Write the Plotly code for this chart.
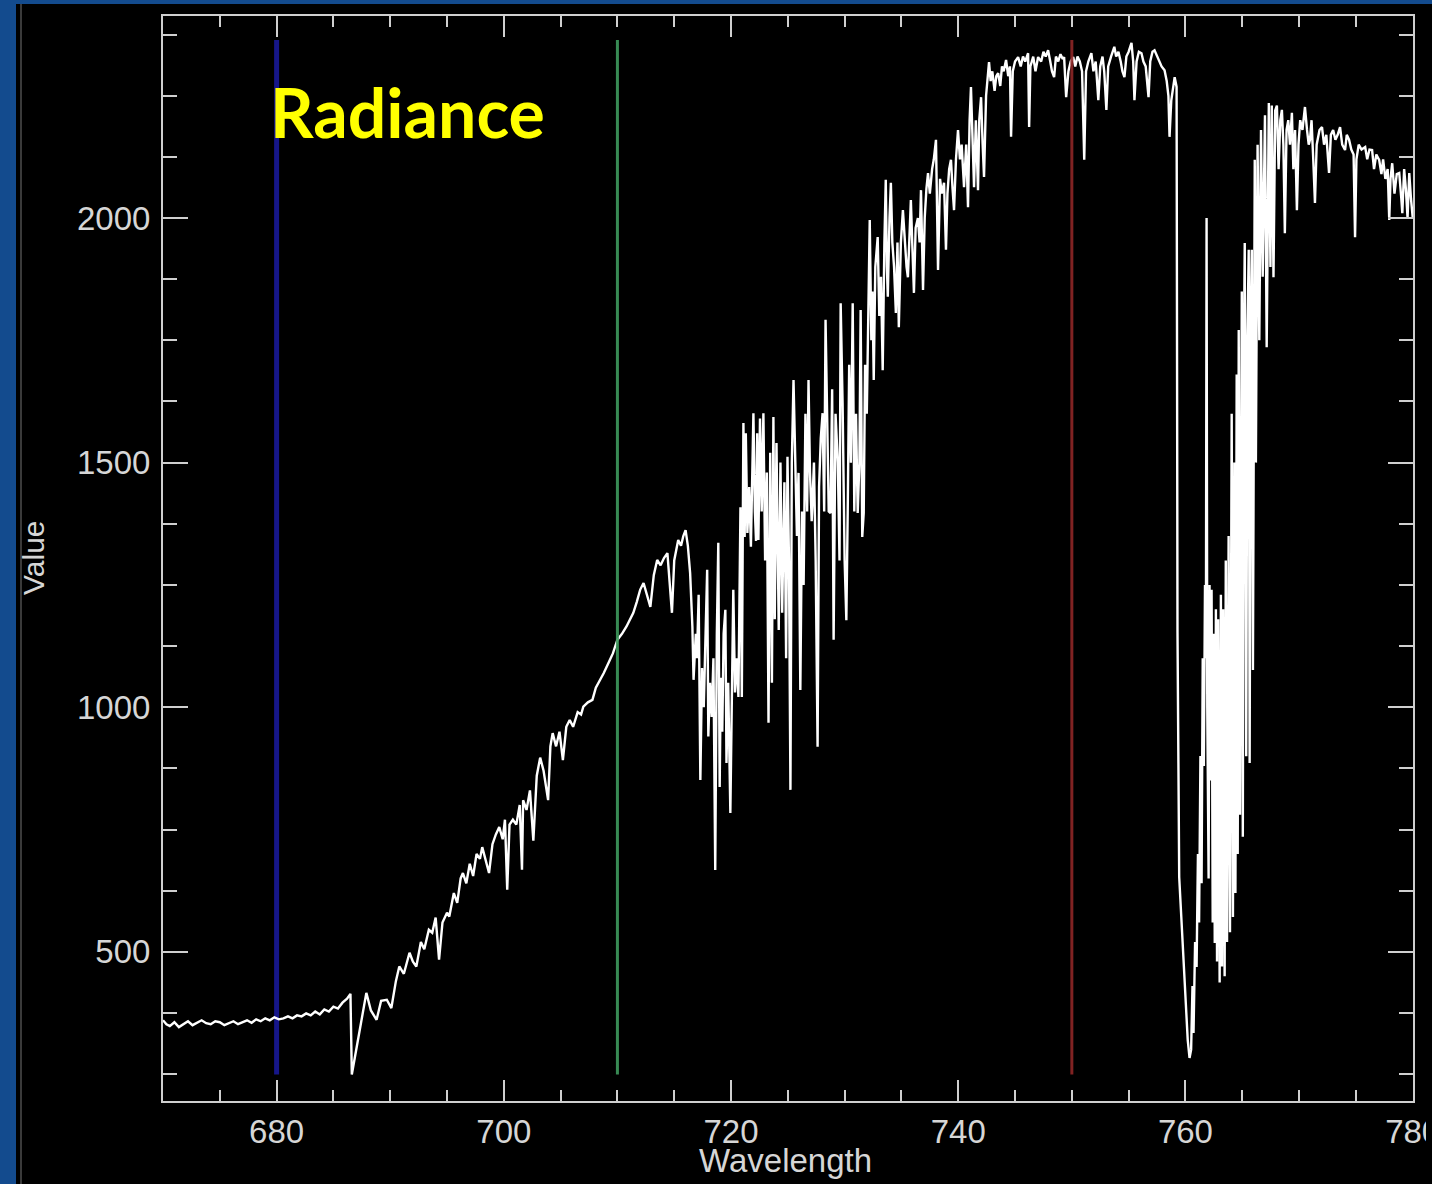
import plotly.graph_objects as go

# ---- data: spectrum (wavelength nm, radiance) by region ----
continuum = [
    (670.0, 360), (670.3, 352), (670.6, 348), (671.0, 356), (671.4, 346), (671.8, 352),
    (672.2, 358), (672.6, 350), (673.0, 355), (673.4, 360), (673.8, 354), (674.2, 352),
    (674.6, 358), (675.0, 356), (675.4, 350), (675.8, 354), (676.2, 358), (676.6, 352),
    (677.0, 356), (677.4, 360), (677.8, 355), (678.2, 362), (678.6, 358), (679.0, 364),
    (679.4, 360), (679.8, 366), (680.2, 362), (680.6, 364), (681.0, 368), (681.4, 364),
    (681.8, 370), (682.2, 368), (682.6, 374), (683.0, 370), (683.4, 378), (683.8, 372),
    (684.2, 382), (684.6, 378), (685.0, 388), (685.4, 384), (685.8, 396), (686.2, 404),
    (686.5, 414),
]
b_band_rise = [
    (686.62, 249), (687.9, 416), (688.3, 380), (688.8, 361), (689.2, 400), (689.7, 402),
    (690.1, 385), (690.5, 440), (690.8, 470), (691.2, 455), (691.7, 498), (692.0, 480),
    (692.3, 470), (692.7, 520), (693.0, 505), (693.4, 545), (693.7, 539), (694.0, 570),
    (694.3, 484), (694.6, 560), (695.0, 580), (695.2, 572), (695.6, 620), (695.9, 600),
    (696.2, 650), (696.4, 661), (696.7, 640), (697.0, 680), (697.3, 655), (697.6, 700),
    (697.9, 690), (698.1, 714), (698.4, 690), (698.7, 661), (699.0, 720), (699.3, 740),
    (699.6, 755), (699.9, 730), (700.1, 770), (700.3, 627), (700.5, 760), (700.8, 770),
    (701.1, 760), (701.4, 800), (701.6, 668), (701.7, 810), (702.0, 790), (702.3, 830),
    (702.6, 727), (702.9, 860), (703.2, 897), (703.5, 870), (703.9, 810), (704.1, 920),
    (704.3, 947), (704.6, 920), (704.9, 950), (705.2, 892), (705.5, 960), (705.8, 974),
    (706.1, 960), (706.5, 990), (706.8, 985), (707.0, 1001), (707.4, 1010), (707.8, 1015),
]
red_edge = [
    (708.1, 1040), (708.5, 1056), (708.8, 1070), (709.2, 1090), (709.6, 1110), (710.0, 1138),
    (710.4, 1150), (710.8, 1165), (711.1, 1180), (711.4, 1193), (711.7, 1215), (712.0, 1240),
    (712.3, 1254), (712.6, 1230), (712.9, 1205), (713.2, 1270), (713.5, 1301), (713.8, 1290),
    (714.1, 1305), (714.4, 1315), (714.6, 1260), (714.8, 1193), (715.0, 1300), (715.35, 1342),
    (715.6, 1330), (715.8, 1350), (716.0, 1362), (716.2, 1330), (716.4, 1274),
]
water_band = [
    (716.6, 1164), (716.7, 1056), (716.9, 1150), (717.0, 1100), (717.15, 1230), (717.3, 851),
    (717.45, 1080), (717.6, 1000), (717.75, 1120), (717.9, 1281), (718.0, 940), (718.15, 1050),
    (718.3, 980), (718.45, 1100), (718.61, 667), (718.75, 1150), (718.88, 1336), (719.0, 837),
    (719.1, 1060), (719.23, 950), (719.35, 1150), (719.5, 1199), (719.6, 886), (719.75, 1050),
    (719.94, 784), (720.05, 1000), (720.2, 1240), (720.35, 1030), (720.5, 1100), (720.65, 1021),
    (720.83, 1409), (720.95, 1021), (721.09, 1581), (721.2, 1348), (721.3, 1560), (721.44, 1356),
    (721.6, 1450), (721.75, 1328), (721.9, 1580), (721.97, 1601), (722.1, 1400), (722.2, 1340),
    (722.3, 1560), (722.41, 1342), (722.55, 1590), (722.7, 1400), (722.85, 1601), (723.0, 1300),
    (723.15, 1480), (723.3, 968), (723.45, 1520), (723.6, 1050), (723.73, 1593), (723.85, 1180),
    (724.0, 1540), (724.2, 1158), (724.35, 1500), (724.5, 1193), (724.7, 1460), (724.85, 1100),
    (724.97, 1512), (725.1, 1300), (725.23, 831), (725.35, 1500), (725.5, 1669), (725.7, 1465),
    (725.8, 1350), (725.94, 1479), (726.1, 1035), (726.25, 1400), (726.39, 1250), (726.55, 1600),
    (726.7, 1400), (726.82, 1669), (726.95, 1480), (727.1, 1380), (727.3, 1500), (727.45, 1300),
    (727.62, 919), (727.75, 1450), (727.9, 1550), (728.06, 1601), (728.2, 1400), (728.32, 1792),
    (728.5, 1567), (728.6, 1400), (728.76, 1397), (728.9, 1650), (729.03, 1138), (729.2, 1600),
    (729.4, 1500), (729.55, 1300), (729.65, 1826), (729.82, 1622), (730.0, 1300), (730.15, 1178),
    (730.27, 1397), (730.4, 1700), (730.55, 1500), (730.71, 1826), (730.85, 1400), (731.0, 1600),
    (731.15, 1397), (731.3, 1500), (731.41, 1812), (731.55, 1348), (731.68, 1397), (731.8, 1700),
    (731.95, 1600),
]
plateau = [
    (732.1, 1850), (732.21, 1996), (732.35, 1750), (732.45, 1850), (732.56, 1669), (732.7, 1900),
    (732.91, 1961), (733.05, 1800), (733.2, 1880), (733.35, 1689), (733.5, 1950), (733.62, 2078),
    (733.72, 1900), (733.8, 1839), (733.95, 2000), (734.07, 2072), (734.2, 1950), (734.35, 1900),
    (734.51, 1806), (734.65, 1950), (734.77, 1777), (734.95, 1950), (735.13, 2016), (735.3, 1950),
    (735.45, 1900), (735.57, 1879), (735.7, 1980), (735.83, 2037), (735.95, 1950), (736.1, 1847),
    (736.25, 1980), (736.45, 2000), (736.6, 1950), (736.72, 2057), (736.9, 1853), (737.05, 2000),
    (737.2, 2060), (737.34, 2092), (737.5, 2050), (737.7, 2100), (737.85, 2120), (738.04, 2160),
    (738.22, 1894), (738.4, 2080), (738.55, 2050), (738.75, 2072), (738.92, 1935), (739.05, 2050),
    (739.2, 2100), (739.36, 2119), (739.5, 2060), (739.63, 2016), (739.8, 2120), (739.98, 2180),
    (740.15, 2120), (740.3, 2150), (740.51, 2063), (740.7, 2150), (740.86, 2022), (741.0, 2200),
    (741.12, 2268), (741.25, 2150), (741.39, 2063), (741.55, 2200), (741.74, 2057), (741.85, 2200),
    (742.01, 2247), (742.15, 2150), (742.27, 2084), (742.45, 2250), (742.71, 2319), (742.85, 2280),
    (743.0, 2300), (743.2, 2260), (743.35, 2290), (743.51, 2296), (743.7, 2270), (743.85, 2310),
    (744.0, 2300), (744.21, 2323), (744.4, 2290), (744.55, 2310), (744.65, 2166), (744.8, 2300),
    (745.0, 2320), (745.27, 2329), (745.5, 2310), (745.7, 2330), (745.9, 2320), (746.15, 2337),
    (746.24, 2186), (746.35, 2310), (746.6, 2330), (746.8, 2300), (747.03, 2329), (747.3, 2320),
    (747.5, 2340), (747.7, 2330), (747.91, 2343), (748.1, 2320), (748.25, 2300), (748.44, 2288),
    (748.6, 2330), (748.8, 2320), (749.0, 2335), (749.2, 2325), (749.32, 2329), (749.5, 2247),
    (749.7, 2300), (749.9, 2320), (750.12, 2329), (750.3, 2310), (750.5, 2330), (750.7, 2320),
    (750.9, 2300), (751.09, 2119), (751.25, 2300), (751.45, 2320), (751.72, 2337), (751.9, 2300),
    (752.1, 2320), (752.33, 2241), (752.5, 2310), (752.7, 2330), (752.85, 2300), (753.04, 2221),
    (753.2, 2310), (753.45, 2330), (753.74, 2350), (753.9, 2330), (754.1, 2340), (754.3, 2320),
    (754.45, 2300), (754.63, 2288), (754.8, 2330), (755.0, 2340), (755.25, 2358), (755.4, 2320),
    (755.51, 2241), (755.7, 2320), (755.9, 2340), (756.13, 2337), (756.3, 2320), (756.5, 2310),
    (756.75, 2247), (756.9, 2320), (757.1, 2340), (757.28, 2343), (757.5, 2330), (757.7, 2320),
    (757.9, 2310), (758.16, 2302), (758.35, 2280), (758.5, 2250), (758.6, 2166), (758.75, 2240),
    (758.9, 2270), (759.05, 2288), (759.22, 2268),
]
a_band = [
    (759.3, 1152), (759.45, 653), (759.66, 555), (759.92, 422), (760.2, 320), (760.36, 283),
    (760.5, 300), (760.62, 430), (760.71, 334), (760.85, 520), (760.98, 469), (761.1, 700),
    (761.2, 560), (761.32, 900), (761.42, 640), (761.52, 1100), (761.62, 880), (761.72, 1250),
    (761.8, 1100), (761.86, 2000), (761.92, 1000), (762.04, 650), (762.12, 1250), (762.22, 850),
    (762.3, 1240), (762.4, 560), (762.48, 1150), (762.58, 518), (762.68, 1200), (762.78, 480),
    (762.88, 1180), (763.01, 437), (763.12, 1230), (763.22, 470), (763.32, 1200), (763.45, 450),
    (763.55, 1300), (763.66, 520), (763.8, 1350), (763.92, 540), (764.07, 1600), (764.18, 571),
    (764.3, 1500), (764.4, 620), (764.51, 1680), (764.6, 700), (764.69, 1771), (764.8, 780),
    (764.96, 1850), (765.05, 735), (765.13, 1700), (765.22, 1949), (765.35, 900), (765.45, 1750),
    (765.57, 1935), (765.65, 886), (765.75, 1800), (765.84, 1935), (765.94, 1076), (766.1, 2119),
    (766.2, 1500), (766.35, 2150), (766.5, 1750), (766.65, 2180), (766.8, 1880), (767.0, 2210),
    (767.15, 1736), (767.34, 2235), (767.48, 1900), (767.6, 2230), (767.75, 1879),
]
tail = [
    (767.9, 2220), (768.05, 2230), (768.2, 2100), (768.35, 2200), (768.49, 2221), (768.62, 2150),
    (768.75, 1969), (768.9, 2180), (769.05, 2200), (769.2, 2150), (769.37, 2215), (769.5, 2100),
    (769.65, 2180), (769.81, 2016), (769.95, 2150), (770.1, 2200), (770.3, 2180), (770.52, 2227),
    (770.7, 2180), (770.85, 2150), (770.96, 2160), (771.1, 2200), (771.25, 2120), (771.4, 2031),
    (771.55, 2150), (771.8, 2180), (772.02, 2186), (772.2, 2150), (772.4, 2170), (772.64, 2092),
    (772.8, 2170), (773.0, 2180), (773.2, 2160), (773.4, 2170), (773.61, 2186), (773.8, 2150),
    (774.05, 2139), (774.2, 2170), (774.4, 2160), (774.6, 2140), (774.8, 2130), (774.93, 1961),
    (775.05, 2120), (775.25, 2150), (775.5, 2140), (775.82, 2145), (776.0, 2120), (776.2, 2140),
    (776.43, 2139), (776.6, 2100), (776.8, 2130), (777.05, 2119), (777.25, 2090), (777.4, 2120),
    (777.6, 2080), (777.8, 2100), (777.94, 1996), (778.05, 2080), (778.2, 2112), (778.4, 2050),
    (778.6, 2090), (778.82, 2092), (779.0, 2040), (779.09, 2010), (779.25, 2100), (779.4, 2060),
    (779.55, 2000), (779.7, 2092), (779.85, 2040), (780.0, 2002),
]

# marker lines (wavelength, colour)
marker_wavelengths = [680, 710, 750]
marker_colors = ["#16168a", "#3f9a5e", "#8e2626"]
marker_span = [249, 2364]

x_ticks = [680, 700, 720, 740, 760, 780]
y_ticks = [500, 1000, 1500, 2000]

spectrum = continuum + b_band_rise + red_edge + water_band + plateau + a_band + tail
wl = [p[0] for p in spectrum]
rad = [p[1] for p in spectrum]

fig = go.Figure()

# blue line below the spectrum
fig.add_trace(go.Scatter(x=[marker_wavelengths[0]] * 2, y=marker_span, mode="lines",
                         line=dict(color=marker_colors[0], width=5), showlegend=False,
                         hoverinfo="skip"))
fig.add_trace(go.Scatter(x=wl, y=rad, mode="lines", line=dict(color="white", width=2.4),
                         showlegend=False))
for w, c in zip(marker_wavelengths[1:], marker_colors[1:]):
    fig.add_trace(go.Scatter(x=[w, w], y=marker_span, mode="lines",
                             line=dict(color=c, width=3), opacity=0.9, showlegend=False,
                             hoverinfo="skip"))

axcol = "#cfcfcf"
tickfont = dict(family="Liberation Sans", size=33, color="#d6d6d6")

fig.update_xaxes(range=[670, 780.03], showline=True, linecolor=axcol, linewidth=2,
                 mirror="ticks", ticks="inside", ticklen=21, tickwidth=2, tickcolor=axcol,
                 tickvals=x_ticks, showgrid=False, zeroline=False, tickfont=tickfont,
                 ticklabelstandoff=0, ticklabeloverflow="allow", automargin=False,
                 minor=dict(dtick=5, tick0=0, ticks="inside", ticklen=11, tickwidth=2,
                            tickcolor=axcol, showgrid=False))
fig.update_yaxes(range=[195, 2413], showline=True, linecolor=axcol, linewidth=2,
                 mirror="ticks", ticks="inside", ticklen=25, tickwidth=2, tickcolor=axcol,
                 tickvals=y_ticks, showgrid=False, zeroline=False, tickfont=tickfont,
                 ticklabelstandoff=4, automargin=False,
                 minor=dict(dtick=125, tick0=0, ticks="inside", ticklen=14, tickwidth=2,
                            tickcolor=axcol, showgrid=False))

W, H = 1432, 1184
L, R, T, B = 163, 19, 16, 83
pw, ph = W - L - R, H - T - B


def px(x):
    return (x - L) / pw


def py(y):
    return (H - B - y) / ph


blue = "#134b8e"
fig.update_layout(
    width=W, height=H,
    margin=dict(l=L, r=R, t=T, b=B, autoexpand=False),
    paper_bgcolor="black", plot_bgcolor="black",
    showlegend=False,
    shapes=[
        dict(type="rect", xref="paper", yref="paper", x0=px(0), x1=px(16), y0=py(H), y1=py(0),
             fillcolor=blue, line=dict(width=0), layer="below"),
        dict(type="rect", xref="paper", yref="paper", x0=px(0), x1=px(W), y0=py(4), y1=py(0),
             fillcolor=blue, line=dict(width=0), layer="below"),
        dict(type="line", xref="paper", yref="paper", x0=px(21), x1=px(21), y0=py(H), y1=py(4),
             line=dict(color="#3a3a3a", width=2), layer="below"),
        dict(type="rect", xref="paper", yref="paper", x0=px(1426), x1=px(W), y0=py(H), y1=py(4),
             fillcolor="black", line=dict(width=0), layer="above"),
    ],
    annotations=[
        dict(text="Radiance", xref="paper", yref="paper", x=px(268), y=py(112),
             xanchor="left", yanchor="middle", showarrow=False,
             font=dict(family="Lato", size=68, color="#ffff00", weight="bold")),
        dict(text="Wavelength", xref="paper", yref="paper", x=px(785), y=py(1160),
             xanchor="center", yanchor="middle", showarrow=False,
             font=dict(family="Liberation Sans", size=33, color="#d6d6d6")),
        dict(text="Value", xref="paper", yref="paper", x=px(33), y=py(558),
             xanchor="center", yanchor="middle", showarrow=False, textangle=-90,
             font=dict(family="Liberation Sans", size=30, color="#d6d6d6")),
    ],
)

fig.write_html("out.html")
